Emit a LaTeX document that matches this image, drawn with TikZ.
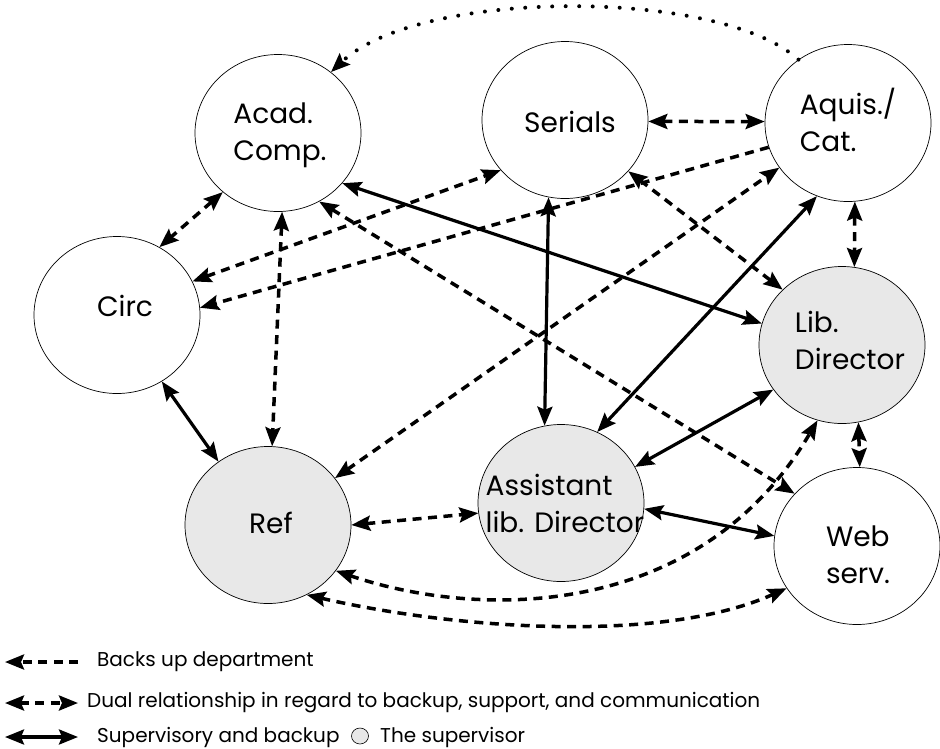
\documentclass[tikz,border=0pt]{standalone}
\usepackage{fontspec}
\setmainfont{Poppins}
\usetikzlibrary{arrows.meta,shapes.geometric}
\begin{document}
\begin{tikzpicture}[x=1pt,y=-1pt,
  dept/.style={ellipse, draw, line width=0.7pt, minimum width=166pt, minimum height=157pt, inner sep=0pt},
  supbox/.style={dept, fill=black!9},
  lbl/.style={font=\fontsize{28}{37}\selectfont, align=left, inner sep=0pt},
  legtxt/.style={font=\fontsize{20}{24}\selectfont, inner sep=0pt, anchor=west},
  dual/.style={line width=3.5pt, dash pattern=on 9pt off 6.5pt, {Stealth[length=19pt,width=15pt,inset=3pt]}-{Stealth[length=19pt,width=15pt,inset=3pt]}},
  back/.style={line width=3.5pt, dash pattern=on 9pt off 6.5pt, -{Stealth[length=19pt,width=15pt,inset=3pt]}},
  sol/.style={line width=3.2pt, {Stealth[length=19pt,width=15pt,inset=3pt]}-{Stealth[length=19pt,width=15pt,inset=3pt]}},
  dotarc/.style={line width=4pt, line cap=round, dash pattern=on 0pt off 13.5pt, -{Stealth[length=19pt,width=15pt,inset=3pt]}}
]
\useasboundingbox (0,0) rectangle (940,748);
\fill[white] (0,0) rectangle (940,748);

% departments
\node[dept] (acad) at (278,133) {};
\node[dept] (ser) at (565,120) {};
\node[dept] (aq) at (848,123) {};
\node[dept] (circ) at (117,315) {};
\node[supbox] (lib) at (842,345) {};
\node[supbox] (ref) at (268,525) {};
\node[supbox] (asst) at (561,503) {};
\node[dept] (web) at (857,546) {};

% labels
\node[lbl] (acadt) at (280,135) {Acad.\\Comp.};
\node[lbl] (sert) at (570,122) {Serials};
\node[lbl] (aqt) at (848,120) {Aquis./\\Cat.};
\node[lbl] (circt) at (125,306) {Circ};
\node[lbl] (libt) at (850,340) {Lib.\\Director};
\node[lbl] (reft) at (271,523) {Ref};
\node[lbl] (asstt) at (565,503) {Assistant\\lib. Director};
\node[lbl] (webt) at (858,555) {Web\\serv.};

% connectors
\draw[dotarc] (aq.128) .. controls (720,-12) and (420,-12) .. (acad.49);
\draw[dual] (ser.-1) -- (aq.179);
\draw[dual] (acad.-133) -- (circ.58);
\draw[dual] (acad.-87) -- (ref.87);
\draw[sol] (circ.-56) -- (ref.128);
\draw[dual] (circ.24) -- (ser.-142);
\draw[back] (aq.-163) -- (circ.5);
\draw[dual] (ref.35) -- (aq.-147);
\draw[sol] (acad.-38) -- (lib.165);
\draw[dual] (acad.-59) -- (web.140);
\draw[sol] (ser.-102) -- (asst.102);
\draw[dual] (ser.-39) -- (lib.137);
\draw[sol] (aq.-113) -- (asst.63);
\draw[dual] (aq.-85) -- (lib.81);
\draw[sol] (lib.-147) -- (asst.26);
\draw[sol] (asst.-4) -- (web.173);
\draw[dual] (ref.0) -- (asst.-173);
\draw[dual] (ref.-34) .. controls (480,620) and (700,620) .. (lib.-108);
\draw[dual] (ref.-61) .. controls (450,628) and (660,645) .. (web.-149);
\draw[dual] (lib.-78) -- (web.88);

% legend
\coordinate (l1a) at (5,662); \coordinate (l1b) at (78,662);
\coordinate (l2a) at (5,703); \coordinate (l2b) at (78,703);
\coordinate (l3a) at (5,737); \coordinate (l3b) at (78,737);
\draw[back] (l1b) -- (l1a);
\draw[dual] (l2a) -- (l2b);
\draw[sol] (l3a) -- (l3b);
\node[legtxt] (lt1) at (97,662) {Backs up department};
\node[legtxt] (lt2) at (87,703) {Dual relationship in regard to backup, support, and communication};
\node[legtxt] (lt3) at (97,737) {Supervisory and backup};
\node[ellipse, draw, line width=0.6pt, fill=black!9, minimum width=17pt, minimum height=16pt, inner sep=0pt] (legc) at (360,736) {};
\node[legtxt] (lt4) at (380,737) {The supervisor};
\end{tikzpicture}
\end{document}
